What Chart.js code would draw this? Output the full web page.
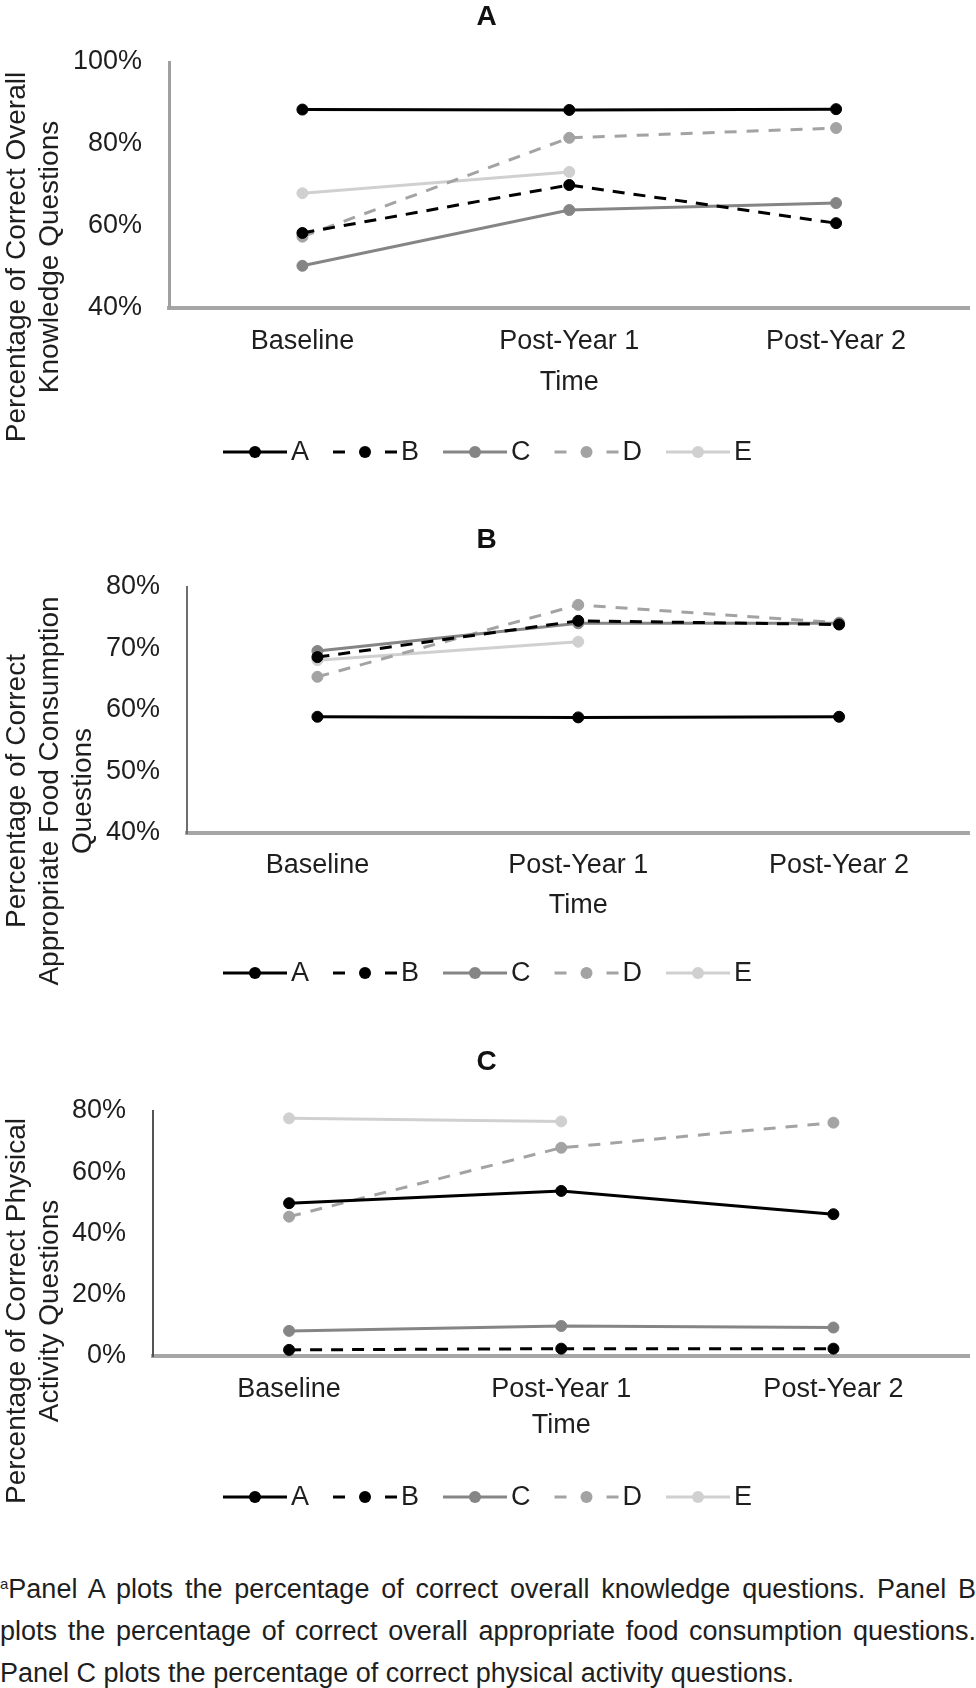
<!DOCTYPE html>
<html>
<head>
<meta charset="utf-8">
<script src="https://cdn.jsdelivr.net/npm/chart.js@4.4.1/dist/chart.umd.min.js"></script>
<style>
html,body{margin:0;padding:0;background:#fff;overflow:hidden;width:976px;height:1688px;}
canvas.panel{position:absolute;left:0;}
#caption{position:absolute;left:0;top:1568px;width:976px;font-family:'Liberation Sans',Arial,sans-serif;font-size:27px;line-height:42px;color:#1e1e1e;}
#caption .j{text-align:justify;text-align-last:justify;}
#caption sup{font-size:15px;line-height:0;vertical-align:9px;}
</style>
</head>
<body>
<canvas id="cA" class="panel" style="top:0px"></canvas>
<canvas id="cB" class="panel" style="top:522px"></canvas>
<canvas id="cC" class="panel" style="top:1044px"></canvas>
<div id="caption">
<div class="j"><sup>a</sup>Panel A plots the percentage of correct overall knowledge questions. Panel B</div>
<div class="j">plots the percentage of correct overall appropriate food consumption questions.</div>
<div>Panel C plots the percentage of correct physical activity questions.</div>
</div>
<script>
// ---------- data ----------
const categories = ['Baseline', 'Post-Year 1', 'Post-Year 2'];
const seriesNames = ['A', 'B', 'C', 'D', 'E'];

// Panel A: correct overall knowledge questions (%)
const knowA = [88.4, 88.3, 88.5];
const knowB = [58.3, 70.0, 60.7];
const knowC = [50.3, 63.9, 65.6];
const knowD = [57.4, 81.5, 83.9];
const knowE = [68.0, 73.2, null];

// Panel B: correct appropriate food consumption questions (%)
const foodA = [58.9, 58.8, 58.9];
const foodB = [68.6, 74.5, 73.9];
const foodC = [69.6, 74.1, 74.1];
const foodD = [65.4, 77.1, 74.2];
const foodE = [68.1, 71.1, null];

// Panel C: correct physical activity questions (%)
const physA = [49.9, 53.9, 46.3];
const physB = [2.0, 2.4, 2.4];
const physC = [8.2, 9.8, 9.3];
const physD = [45.5, 68.0, 76.2];
const physE = [77.6, 76.6, null];

// tick labels (values, shown with %)
const yTicksA = [40, 60, 80, 100];
const yTicksB = [40, 50, 60, 70, 80];
const yTicksC = [0, 20, 40, 60, 80];

// ---------- styles ----------
const FONT = "'Liberation Sans', Arial, sans-serif";
const TEXT = '#1e1e1e';
const seriesStyles = [
  {color: '#000000', dash: [], legendDash: []},
  {color: '#000000', dash: [12, 9], legendDash: [12, 40]},
  {color: '#858585', dash: [], legendDash: []},
  {color: '#a3a3a3', dash: [12, 10], legendDash: [12, 40]},
  {color: '#d0d0d0', dash: [], legendDash: []}
];

const sideTitle = {
  id: 'sideTitle',
  afterDraw(chart, args, opts) {
    const ctx = chart.ctx;
    ctx.save();
    ctx.font = opts.font;
    ctx.fillStyle = opts.color;
    ctx.textAlign = 'center';
    ctx.textBaseline = 'alphabetic';
    opts.lines.forEach((t, i) => {
      ctx.save();
      ctx.translate(opts.baselines[i], opts.centerY);
      ctx.rotate(-Math.PI / 2);
      ctx.fillText(t, 0, 0);
      ctx.restore();
    });
    ctx.restore();
  }
};

const lineLegend = {
  id: 'lineLegend',
  afterDraw(chart, args, opts) {
    const ctx = chart.ctx;
    ctx.save();
    ctx.font = opts.font;
    ctx.textBaseline = 'middle';
    ctx.textAlign = 'left';
    let x = opts.x;
    const y = opts.y;
    chart.data.datasets.forEach(ds => {
      ctx.strokeStyle = ds.borderColor;
      ctx.lineWidth = ds.borderWidth;
      ctx.setLineDash(ds.legendDash || []);
      ctx.beginPath();
      ctx.moveTo(x, y);
      ctx.lineTo(x + opts.lineLen, y);
      ctx.stroke();
      ctx.setLineDash([]);
      ctx.fillStyle = ds.pointBackgroundColor;
      ctx.beginPath();
      ctx.arc(x + opts.lineLen / 2, y, opts.r, 0, Math.PI * 2);
      ctx.fill();
      ctx.fillStyle = opts.color;
      ctx.fillText(ds.label, x + opts.lineLen + opts.gap, y + 1);
      x += opts.lineLen + opts.gap + ctx.measureText(ds.label).width + opts.spacing;
    });
    ctx.restore();
  }
};

function makePanel(id, cfg) {
  const canvas = document.getElementById(id);
  const H = 490;
  canvas.width = 976; canvas.height = H;
  canvas.style.width = '976px'; canvas.style.height = H + 'px';
  const datasets = cfg.series.map((vals, i) => ({
    label: seriesNames[i],
    data: vals,
    borderColor: seriesStyles[i].color,
    backgroundColor: seriesStyles[i].color,
    pointBackgroundColor: seriesStyles[i].color,
    pointBorderColor: seriesStyles[i].color,
    borderWidth: 3,
    borderDash: seriesStyles[i].dash,
    legendDash: seriesStyles[i].legendDash,
    pointRadius: 5.5,
    pointHoverRadius: 5.5,
    pointBorderWidth: 1,
    tension: 0,
    spanGaps: false,
    clip: false
  }));
  const tickFont = {family: FONT, size: 27};
  const titleHalf = 28 * 1.2 / 2;
  new Chart(canvas, {
    type: 'line',
    data: {labels: categories, datasets},
    options: {
      responsive: false,
      animation: false,
      events: [],
      layout: {padding: {left: 0, right: 3, top: 0, bottom: H - (cfg.timeY + 16.2)}},
      plugins: {
        legend: {display: false},
        tooltip: {enabled: false},
        title: {
          display: true, text: cfg.title, color: '#111',
          font: {family: FONT, size: 28, weight: 'bold'},
          padding: {top: cfg.titleY - titleHalf, bottom: cfg.plotTop - cfg.titleY - titleHalf}
        },
        sideTitle: {lines: cfg.yTitle, baselines: [25, 58, 91], centerY: cfg.yTitleY, font: '28px ' + FONT, color: TEXT},
        lineLegend: {x: 223, y: cfg.legendY, lineLen: 64, gap: 4, spacing: 24, r: 6, font: '27px ' + FONT, color: TEXT}
      },
      scales: {
        x: {
          offset: true,
          grid: {display: false, drawTicks: false},
          border: {color: '#a6a6a6', width: 4},
          ticks: {font: tickFont, color: TEXT, padding: cfg.tickY - cfg.plotBottom - 16.2, maxRotation: 0, autoSkip: false},
          title: {display: true, text: 'Time', font: tickFont, color: TEXT, padding: 0},
          afterFit(s) { s.height = cfg.timeY + 16.2 - cfg.plotBottom; }
        },
        y: {
          min: cfg.yTicks[0], max: cfg.yTicks[cfg.yTicks.length - 1],
          grid: {display: false, drawTicks: false},
          border: {color: cfg.yBorder, width: cfg.yBorderW},
          afterBuildTicks(s) { s.ticks = cfg.yTicks.map(v => ({value: v})); },
          ticks: {font: tickFont, color: TEXT, padding: 27, callback: v => v + '%'},
          afterFit(s) { s.width = cfg.plotLeft; }
        }
      }
    },
    plugins: [sideTitle, lineLegend]
  });
}

makePanel('cA', {
  title: 'A', series: [knowA, knowB, knowC, knowD, knowE], yTicks: yTicksA,
  yTitle: ['Percentage of Correct Overall', 'Knowledge Questions'],
  titleY: 17, plotTop: 62, plotBottom: 308, plotLeft: 169, tickY: 342, timeY: 383, legendY: 452, yTitleY: 257,
  yBorder: '#a0a0a0', yBorderW: 3
});
makePanel('cB', {
  title: 'B', series: [foodA, foodB, foodC, foodD, foodE], yTicks: yTicksB,
  yTitle: ['Percentage of Correct', 'Appropriate Food Consumption', 'Questions'],
  titleY: 18, plotTop: 65, plotBottom: 311, plotLeft: 187, tickY: 344, timeY: 384, legendY: 451, yTitleY: 269,
  yBorder: '#6e6e6e', yBorderW: 2
});
makePanel('cC', {
  title: 'C', series: [physA, physB, physC, physD, physE], yTicks: yTicksC,
  yTitle: ['Percentage of Correct Physical', 'Activity Questions'],
  titleY: 18, plotTop: 67, plotBottom: 312, plotLeft: 153, tickY: 346, timeY: 382, legendY: 453, yTitleY: 267,
  yBorder: '#555555', yBorderW: 2
});
</script>
</body>
</html>
